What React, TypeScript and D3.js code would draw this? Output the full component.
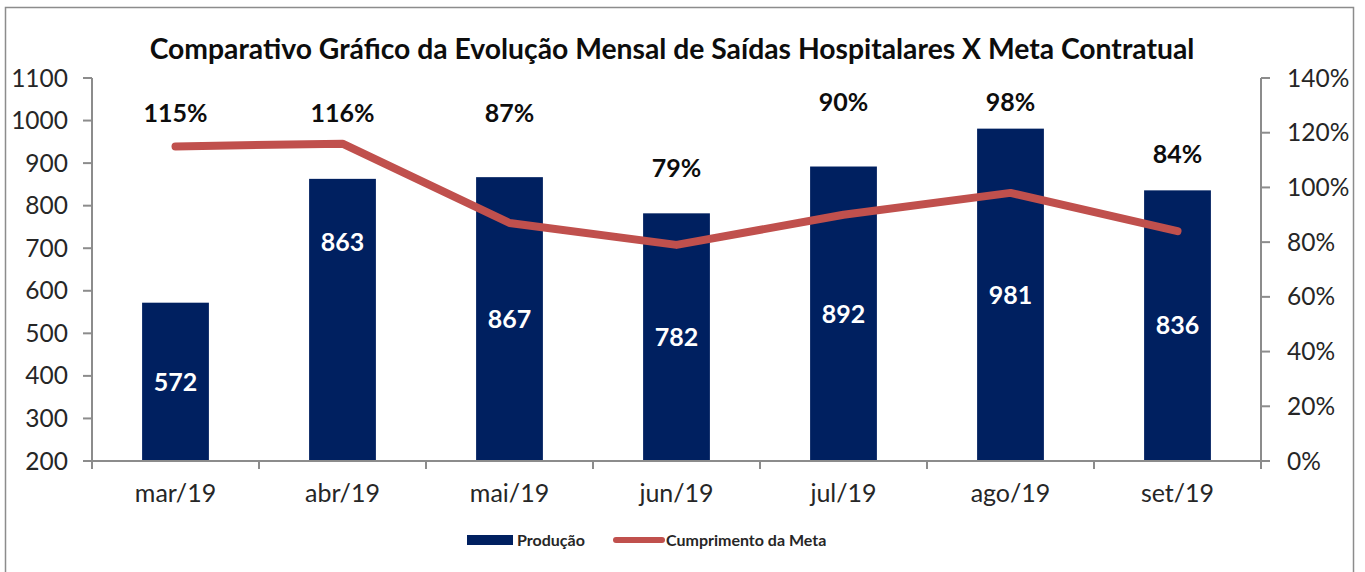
import React from "react";
import * as d3 from "d3";

const categories = ["mar/19", "abr/19", "mai/19", "jun/19", "jul/19", "ago/19", "set/19"];
const producao = [572, 863, 867, 782, 892, 981, 836];
const cumprimento = [115, 116, 87, 79, 90, 98, 84];
// label anchor values (on percent axis) for the percent data labels
const pctLabelAnchor = [127, 127, 127, 107, 131, 131, 112];
// bar label anchor values (on left axis); null = bar center
const barLabelAnchor: (number | null)[] = [null, 715, null, null, null, null, null];
const leftTicks = [200, 300, 400, 500, 600, 700, 800, 900, 1000, 1100];
const rightTicks = [0, 20, 40, 60, 80, 100, 120, 140];

const W = 1365;
const H = 572;
const FONT = "Lato, 'Open Sans', sans-serif";

export default function App() {
  const left = 92;
  const right = 1261;
  const top = 78;
  const bottom = 461;
  const x = d3.scaleBand<string>().domain(categories).range([left, right]).paddingInner(0.6).paddingOuter(0.3);
  const xc = (c: string) => (x(c) as number) + x.bandwidth() / 2;
  const step = (right - left) / categories.length;
  const y = d3.scaleLinear().domain([200, 1100]).range([bottom, top]);
  const yr = d3.scaleLinear().domain([0, 140]).range([bottom, top]);
  const line = d3
    .line<number>()
    .x((_, i) => xc(categories[i]))
    .y((d) => yr(d));
  const axisColor = "#8c8c8c";
  const tickColor = "#262626";

  return (
    <svg width={W} height={H} style={{ position: "absolute", left: 0, top: 0 }}>
      <rect x={0} y={0} width={W} height={H} fill="#fff" />
      <rect x={5.5} y={7.5} width={1348} height={600} fill="#fff" stroke="#8c8c8c" strokeWidth={1.5} />
      <text x={672} y={59} textAnchor="middle" fontFamily={FONT} fontWeight={700} fontSize={28.3} fill="#0d0d0d">
        Comparativo Gráfico da Evolução Mensal de Saídas Hospitalares X Meta Contratual
      </text>
      {/* bars */}
      {producao.map((v, i) => (
        <rect key={i} x={x(categories[i])} y={y(v)} width={x.bandwidth()} height={bottom - y(v)} fill="#002060" />
      ))}
      {/* left axis */}
      <line x1={left} x2={left} y1={top} y2={bottom} stroke={axisColor} strokeWidth={2} />
      {leftTicks.map((t) => (
        <g key={t}>
          <line x1={left - 9} x2={left} y1={y(t)} y2={y(t)} stroke={axisColor} strokeWidth={2} />
          <text x={68} y={y(t)} dy="0.35em" textAnchor="end" fontFamily={FONT} fontSize={24.5} fill={tickColor}>
            {t}
          </text>
        </g>
      ))}
      {/* right axis */}
      <line x1={right} x2={right} y1={top} y2={bottom} stroke={axisColor} strokeWidth={2} />
      {rightTicks.map((t) => (
        <g key={t}>
          <line x1={right} x2={right + 9} y1={yr(t)} y2={yr(t)} stroke={axisColor} strokeWidth={2} />
          <text x={1287} y={yr(t)} dy="0.35em" textAnchor="start" fontFamily={FONT} fontSize={24.5} fill={tickColor}>
            {t}%
          </text>
        </g>
      ))}
      {/* x axis */}
      <line x1={left - 9} x2={right + 9} y1={bottom} y2={bottom} stroke={axisColor} strokeWidth={2} />
      {d3.range(categories.length + 1).map((i) => (
        <line key={i} x1={left + i * step} x2={left + i * step} y1={bottom} y2={bottom + 8} stroke={axisColor} strokeWidth={2} />
      ))}
      {categories.map((c) => (
        <text key={c} x={xc(c)} y={493} dy="0.35em" textAnchor="middle" fontFamily={FONT} fontSize={25} fill={tickColor}>
          {c}
        </text>
      ))}
      {/* bar labels */}
      {producao.map((v, i) => {
        const a = barLabelAnchor[i];
        const yy = a === null ? (y(v) + bottom) / 2 : y(a);
        return (
          <text key={i} x={xc(categories[i])} y={yy} dy="0.35em" textAnchor="middle" fontFamily={FONT} fontWeight={700} fontSize={25} fill="#fff">
            {v}
          </text>
        );
      })}
      {/* line */}
      <path d={line(cumprimento) || ""} fill="none" stroke="#C0504D" strokeWidth={8} strokeLinecap="round" strokeLinejoin="round" />
      {cumprimento.map((v, i) => (
        <text key={i} x={xc(categories[i])} y={yr(pctLabelAnchor[i])} dy="0.35em" textAnchor="middle" fontFamily={FONT} fontWeight={700} fontSize={25} fill="#0d0d0d">
          {v}%
        </text>
      ))}
      {/* legend */}
      <rect x={467} y={535} width={46} height={10} fill="#002060" />
      <text x={517} y={540} dy="0.35em" fontFamily={FONT} fontWeight={700} fontSize={16} fill="#262626">
        Produção
      </text>
      <line x1={616} x2={662} y1={540} y2={540} stroke="#C0504D" strokeWidth={6} strokeLinecap="round" />
      <text x={666} y={540} dy="0.35em" fontFamily={FONT} fontWeight={700} fontSize={16} fill="#262626">
        Cumprimento da Meta
      </text>
    </svg>
  );
}
